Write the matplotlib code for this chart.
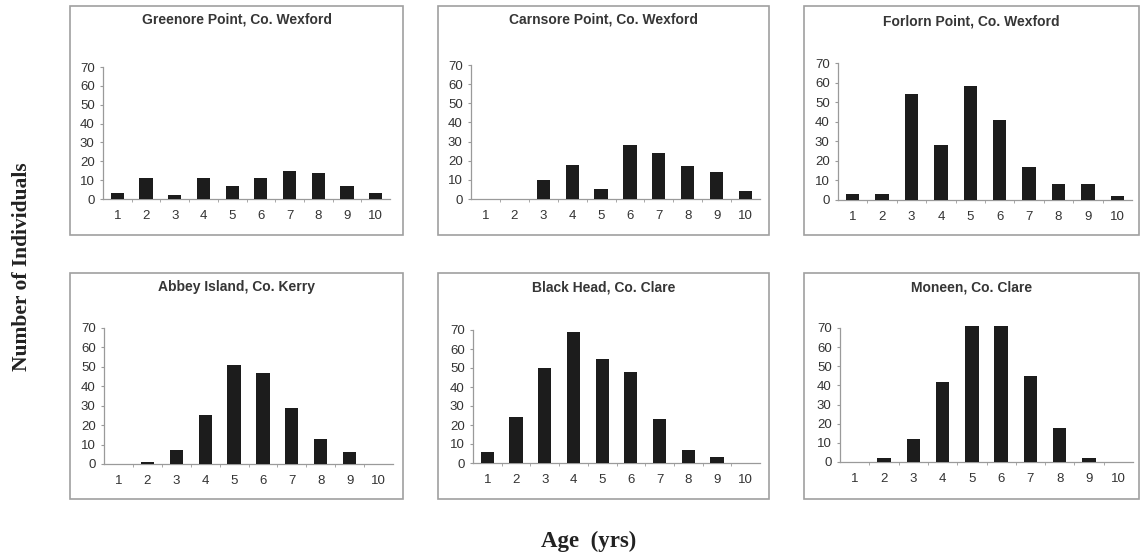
import matplotlib
matplotlib.use("Agg")
import matplotlib.pyplot as plt
from matplotlib.patches import Rectangle

# Age classes (years) and number of individuals per site
ages = [1, 2, 3, 4, 5, 6, 7, 8, 9, 10]
age_labels = ["1", "2", "3", "4", "5", "6", "7", "8", "9", "10"]

greenore = [3, 11, 2, 11, 7, 11, 15, 14, 7, 3]
carnsore = [0, 0, 10, 18, 5, 28, 24, 17, 14, 4]
forlorn = [3, 3, 54, 28, 58, 41, 17, 8, 8, 2]
abbey = [0, 1, 7, 25, 51, 47, 29, 13, 6, 0]
black_head = [6, 24, 50, 69, 55, 48, 23, 7, 3, 0]
moneen = [0, 2, 12, 42, 71, 71, 45, 18, 2, 0]

titles = ["Greenore Point, Co. Wexford", "Carnsore Point, Co. Wexford",
          "Forlorn Point, Co. Wexford", "Abbey Island, Co. Kerry",
          "Black Head, Co. Clare", "Moneen, Co. Clare"]
series = [greenore, carnsore, forlorn, abbey, black_head, moneen]
y_ticks = [0, 10, 20, 30, 40, 50, 60, 70]

W, H = 1141, 557
fig = plt.figure(figsize=(W / 100, H / 100), dpi=100)
fig.patch.set_facecolor("white")

def fx(x):
    return x / W

def fy(y):
    return 1 - y / H

# panel frame boxes (pixel: left, top, right, bottom)
boxes = [(70, 6, 403, 235), (438, 6, 769, 235), (804, 6, 1139, 235),
         (70, 273, 403, 499), (438, 273, 769, 499), (804, 273, 1139, 499)]
# plotting areas (pixel: y-axis x, right end, y of 0, y of 70)
areas = [(103, 390, 199, 67), (471, 760, 199, 65), (838, 1132, 200, 63),
         (104, 393, 464, 328), (473, 760, 463, 330), (840, 1133, 462, 328)]
title_y = [20, 20, 21, 287, 287, 287]

bar_color = "#1c1c1c"
axis_color = "#9a9a9a"
tick_font = ["Liberation Sans Narrow", "Liberation Sans", "DejaVu Sans"]

for (l, t, r, b), (ax0, ax1, y0, y70), ttl, ty, vals in zip(
        boxes, areas, titles, title_y, series):
    fig.patches.append(Rectangle((fx(l), fy(b)), fx(r) - fx(l), fy(t) - fy(b),
                                 transform=fig.transFigure, fill=False,
                                 edgecolor="#a0a0a0", linewidth=1.2))
    fig.text(fx((l + r) / 2), fy(ty), ttl, ha="center", va="center",
             fontsize=10, fontweight="bold", color="#363636",
             family=["Liberation Sans", "DejaVu Sans"])
    ax = fig.add_axes([fx(ax0), fy(y0), fx(ax1) - fx(ax0), fy(y70) - fy(y0)])
    ax.patch.set_alpha(0)
    ax.bar(ages, vals, width=0.46, color=bar_color, linewidth=0,
           clip_on=False, zorder=3)
    ax.set_xlim(0.5, 10.5)
    ax.set_ylim(0, 70)
    for side in ("top", "right"):
        ax.spines[side].set_visible(False)
    for side in ("left", "bottom"):
        ax.spines[side].set_color(axis_color)
        ax.spines[side].set_linewidth(0.9)
    ax.set_xticks(ages)
    ax.set_xticklabels(age_labels)
    ax.set_xticks([a + 0.5 for a in ages[:-1]], minor=True)
    ax.set_yticks(y_ticks)
    ax.tick_params(axis="x", which="major", length=0, pad=8,
                   labelsize=9.5, labelcolor="#333333")
    ax.tick_params(axis="x", which="minor", length=2, color=axis_color,
                   direction="out")
    ax.tick_params(axis="y", length=2, pad=4, color=axis_color,
                   labelsize=9.5, labelcolor="#333333")
    for lab in ax.get_xticklabels() + ax.get_yticklabels():
        lab.set_family(tick_font)

fig.text(fx(22), fy(267), "Number of Individuals", rotation=90,
         ha="center", va="center", fontsize=15.5, fontweight="bold",
         color="#222222", family=["Liberation Serif", "DejaVu Serif"])
fig.text(fx(589), fy(541), "Age  (yrs)", ha="center", va="center",
         fontsize=16.5, fontweight="bold", color="#222222",
         family=["Liberation Serif", "DejaVu Serif"])

fig.savefig("out.png", dpi=100, facecolor="white")
